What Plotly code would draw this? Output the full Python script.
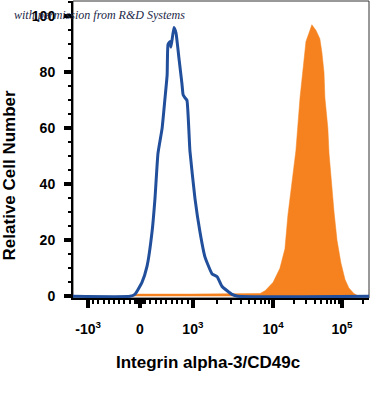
import plotly.graph_objects as go

# ---- data (x in display channel units 0..1000 of a biexponential scale) ----
isotype_ch = [0, 193, 209, 233, 250, 267, 277, 287, 301, 311, 318, 321, 328, 331, 341, 348,
              358, 368, 372, 378, 385, 395, 412, 429, 446, 470, 487, 503, 537, 557, 1000]
isotype_val = [0, 0, 0.7, 5, 10.7, 23, 35, 51, 60, 71, 79, 90, 91, 89, 96, 94,
               85, 76, 72, 71, 70, 52, 35, 23, 14, 8, 7, 3.6, 0.7, 0, 0]

stain_ch = [203, 220, 400, 600, 632, 649, 676, 699, 716, 726, 740, 753, 767, 777, 787,
            797, 807, 821, 834, 841, 848, 851, 861, 865, 872, 882, 892, 905, 919, 932, 949, 966]
stain_val = [0, 0.8, 0.8, 0.8, 1, 2, 5, 10, 17, 29, 41, 52, 71, 82, 91,
             94, 97, 95, 92, 87, 80, 71, 60, 51, 42, 30, 20, 12, 6, 3, 1, 0]

major_ticks = [-1000, 0, 1000, 10000, 100000]
major_labels = ["-10<sup>3</sup>", "0", "10<sup>3</sup>", "10<sup>4</sup>", "10<sup>5</sup>"]
y_ticks = [0, 20, 40, 60, 80, 100]

# display-scale anchors (intensity -> channel)
lin_neg, lin_zero, lin_pos = 51, 226, 405
dec4, dec5 = 676, 909


def to_channel(v):
    import math
    if v <= 0:
        return lin_zero + v / 1000 * (lin_zero - lin_neg)
    if v <= 1000:
        return lin_zero + v / 1000 * (lin_pos - lin_zero)
    lg = math.log10(v)
    if lg <= 4:
        return lin_pos + (lg - 3) * (dec4 - lin_pos)
    return dec4 + (lg - 4) * (dec5 - dec4)


minor_vals = []
for v in range(-900, 1000, 100):
    if v != 0:
        minor_vals.append(to_channel(v))
for v in range(-100, 101, 20):
    minor_vals.append(to_channel(v))
for dec in (1000, 10000):
    for m in range(2, 10):
        minor_vals.append(to_channel(m * dec))
minor_vals.append(to_channel(200000))

BLUE = "rgb(33,79,155)"
ORANGE = "rgb(245,130,31)"

fig = go.Figure()
fig.add_trace(go.Scatter(x=stain_ch, y=stain_val, mode="lines", fill="tozeroy",
                         fillcolor=ORANGE, line=dict(color=ORANGE, width=0.5),
                         hoverinfo="skip", showlegend=False))
fig.add_trace(go.Scatter(x=isotype_ch, y=isotype_val, mode="lines",
                         line=dict(color=BLUE, width=3, shape="spline", smoothing=0.4),
                         hoverinfo="skip", showlegend=False))

tickfont = dict(family="Liberation Sans, Arial, sans-serif", size=14, color="black", weight="bold")

fig.update_layout(
    width=371, height=395,
    margin=dict(l=73, r=2, t=1, b=97),
    paper_bgcolor="white", plot_bgcolor="white",
    xaxis=dict(range=[0, 1000], showgrid=False, zeroline=False,
               showline=True, linecolor="black", linewidth=2, layer="below traces",
               tickmode="array", tickvals=[to_channel(v) for v in major_ticks],
               ticktext=major_labels, ticks="outside", ticklen=8, tickwidth=4,
               tickcolor="black", tickfont=tickfont, ticklabelstandoff=9,
               minor=dict(tickmode="array", tickvals=minor_vals, ticks="outside",
                          ticklen=4, tickwidth=2, tickcolor="black")),
    yaxis=dict(range=[-0.6, 105.5], showgrid=False, zeroline=False,
               showline=True, linecolor="black", linewidth=2, layer="below traces",
               tickmode="array", tickvals=y_ticks, ticks="outside", ticklen=7,
               tickwidth=4, tickcolor="black", tickfont=tickfont, ticklabelstandoff=6,
               minor=dict(dtick=5, ticks="outside", ticklen=3, tickwidth=2,
                          tickcolor="black")),
    shapes=[dict(type="rect", xref="paper", yref="paper", x0=0, x1=1, y0=0, y1=1,
                 line=dict(color="#333333", width=1), layer="below")],
    annotations=[
        dict(text="Relative Cell Number", xref="paper", yref="paper",
             x=-0.215, y=0.414, xanchor="center", yanchor="middle",
             textangle=-90, showarrow=False,
             font=dict(family="Liberation Sans, Arial, sans-serif", size=17,
                       color="black", weight="bold")),
        dict(text="Integrin alpha-3/CD49c", xref="paper", yref="paper",
             x=0.455, y=-0.2155, xanchor="center", yanchor="middle", showarrow=False,
             font=dict(family="Liberation Sans, Arial, sans-serif", size=17,
                       color="black", weight="bold")),
        dict(text="with permission from R&D Systems", xref="paper", yref="paper",
             x=-0.206, y=0.953, xanchor="left", yanchor="middle", showarrow=False,
             font=dict(family="Liberation Serif, serif", size=12,
                       color="#1c2748", style="italic")),
    ],
)

fig.write_html("out.html", config={"displayModeBar": False},
               post_script="document.body.style.margin='0';")
